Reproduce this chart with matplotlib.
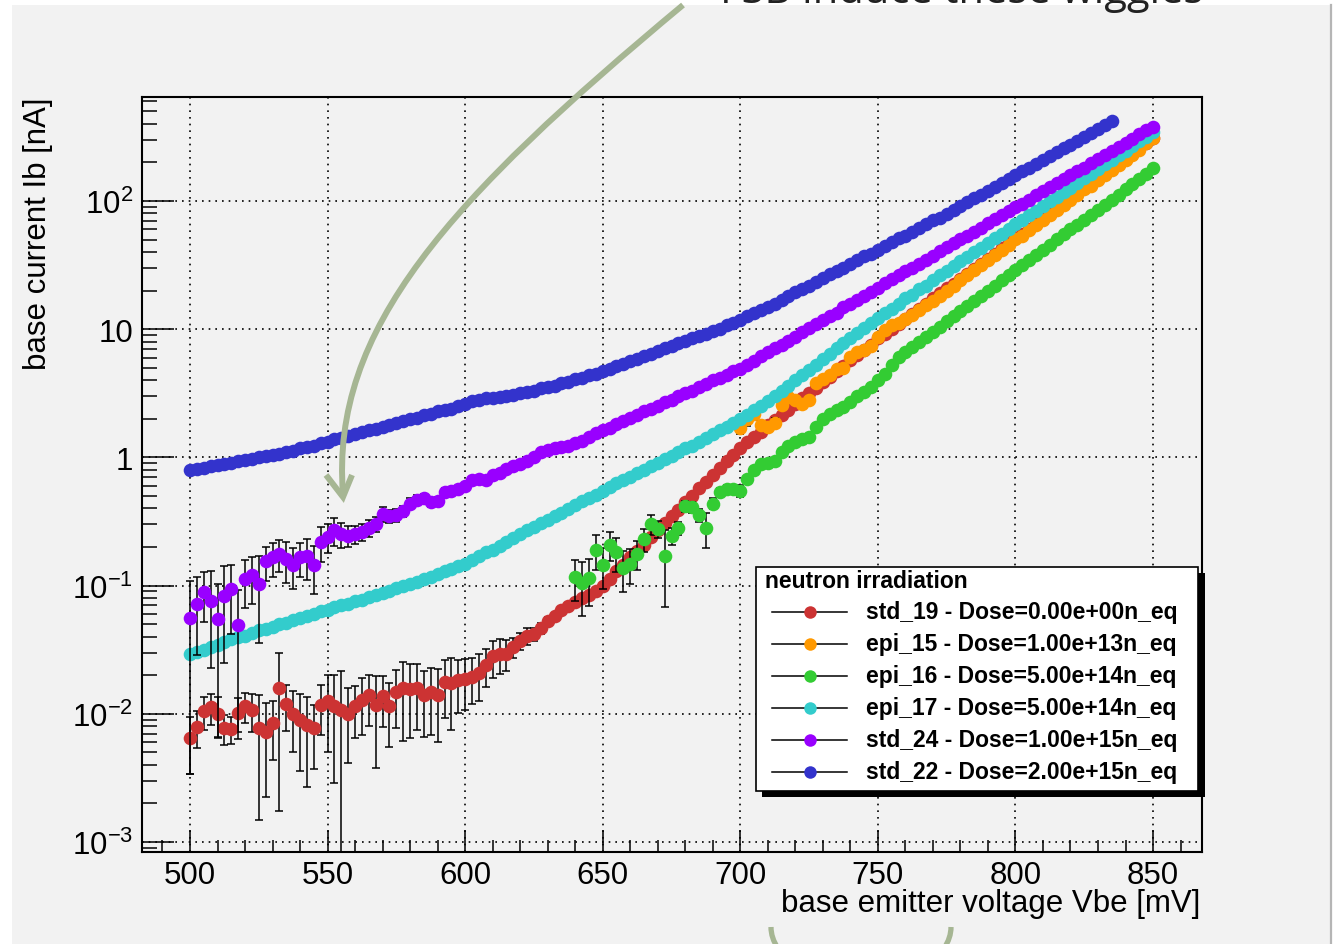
import numpy as np
import matplotlib
matplotlib.use("Agg")
import matplotlib.pyplot as plt
from matplotlib.patches import Rectangle, PathPatch, Arc
from matplotlib.path import Path
from matplotlib.lines import Line2D
from matplotlib.transforms import Affine2D
from matplotlib.ticker import LogLocator, NullFormatter

plt.rcParams['font.family'] = ['Liberation Sans', 'DejaVu Sans']
plt.rcParams['mathtext.fontset'] = 'custom'
plt.rcParams['mathtext.rm'] = 'Liberation Sans'
plt.rcParams['mathtext.it'] = 'Liberation Sans:italic'
plt.rcParams['mathtext.bf'] = 'Liberation Sans:bold'

W, H = 1340, 945
STEP = 2.5  # mV between sweep points

# log10 of base current [nA], one value per sweep point
start_std19 = 500.0
log_ib_std19 = [
    -2.19, -2.10, -1.98, -1.95, -2.00, -2.11, -2.12, -1.99, -1.94, -1.97,
    -2.11, -2.14, -2.07, -1.80, -1.92, -2.00, -2.05, -2.09, -2.11, -1.93,
    -1.90, -1.94, -1.97, -2.00, -1.94, -1.89, -1.85, -1.93, -1.86, -1.94,
    -1.83, -1.80, -1.81, -1.80, -1.85, -1.83, -1.85, -1.75, -1.76, -1.74,
    -1.73, -1.71, -1.68, -1.62, -1.55, -1.53, -1.53, -1.48, -1.43, -1.39,
    -1.38, -1.33, -1.28, -1.24, -1.19, -1.16, -1.13, -1.10, -1.07, -1.04,
    -1.00, -0.95, -0.89, -0.84, -0.78, -0.73, -0.68, -0.62, -0.57, -0.51,
    -0.46, -0.41, -0.35, -0.30, -0.24, -0.19, -0.14, -0.08, -0.03, 0.02,
    0.07, 0.12, 0.16, 0.20, 0.25, 0.29, 0.33, 0.37, 0.42, 0.46,
    0.50, 0.54, 0.59, 0.63, 0.67, 0.71, 0.76, 0.80, 0.84, 0.88,
    0.93, 0.96, 1.00, 1.04, 1.08, 1.12, 1.16, 1.20, 1.24, 1.28,
    1.32, 1.35, 1.39, 1.43, 1.47, 1.51, 1.55, 1.59, 1.63, 1.67,
    1.71, 1.74, 1.78, 1.82, 1.86, 1.90, 1.94, 1.98, 2.02, 2.06,
    2.10, 2.13, 2.17, 2.21, 2.25, 2.29, 2.33, 2.37, 2.41, 2.45,
    2.49]
# relative errors (error / value), from the first point on
err_std19 = [
    0.47, 0.32, 0.29, 0.27, 0.35, 0.26, 0.24, 0.29, 0.26, 0.33,
    0.81, 0.69, 0.49, 0.89, 0.39, 0.50, 0.60, 0.67, 0.52, 0.42,
    0.60, 0.75, 1.00, 0.59, 0.44, 0.47, 0.43, 0.68, 0.43, 0.52,
    0.48, 0.61, 0.58, 0.53, 0.53, 0.54, 0.57, 0.48, 0.57, 0.44,
    0.43, 0.39, 0.40, 0.33, 0.32, 0.31, 0.27, 0.18, 0.15, 0.15,
    0.11, 0.10, 0.08, 0.06, 0.05, 0.05, 0.04, 0.03, 0.03, 0.02]

start_epi15 = 700.0
log_ib_epi15 = [
    0.23, 0.30, 0.34, 0.25, 0.24, 0.27, 0.41, 0.47, 0.45, 0.42,
    0.45, 0.58, 0.61, 0.64, 0.69, 0.70, 0.78, 0.82, 0.84, 0.87,
    0.94, 0.99, 1.03, 1.05, 1.08, 1.11, 1.15, 1.19, 1.22, 1.26,
    1.30, 1.34, 1.38, 1.42, 1.46, 1.50, 1.54, 1.58, 1.62, 1.66,
    1.70, 1.73, 1.77, 1.81, 1.85, 1.89, 1.93, 1.97, 2.01, 2.05,
    2.09, 2.12, 2.16, 2.20, 2.24, 2.28, 2.32, 2.36, 2.40, 2.45,
    2.49]
err_epi15 = [0.10, 0.12, 0.10, 0.08, 0.08, 0.08, 0.06, 0.06, 0.05, 0.05,
             0.05, 0.04, 0.04]

start_epi16 = 640.0
log_ib_epi16 = [
    -0.93, -0.98, -0.94, -0.72, -0.84, -0.68, -0.74, -0.86, -0.83, -0.75,
    -0.64, -0.52, -0.56, -0.77, -0.61, -0.55, -0.38, -0.39, -0.45, -0.55,
    -0.36, -0.27, -0.25, -0.25, -0.26, -0.17, -0.10, -0.05, -0.04, -0.03,
    0.04, 0.09, 0.12, 0.14, 0.16, 0.24, 0.30, 0.34, 0.37, 0.39,
    0.43, 0.48, 0.51, 0.55, 0.60, 0.65, 0.72, 0.78, 0.82, 0.86,
    0.90, 0.94, 0.98, 1.02, 1.06, 1.10, 1.14, 1.18, 1.22, 1.26,
    1.30, 1.34, 1.38, 1.42, 1.46, 1.50, 1.54, 1.58, 1.62, 1.66,
    1.70, 1.74, 1.78, 1.81, 1.85, 1.89, 1.93, 1.97, 2.01, 2.05,
    2.09, 2.13, 2.17, 2.21, 2.26]
err_epi16 = [
    0.35, 0.45, 0.40, 0.30, 0.35, 0.25, 0.30, 0.35, 0.30, 0.25,
    0.20, 0.18, 0.15, 0.60, 0.15, 0.12, 0.10, 0.10, 0.12, 0.30,
    0.10, 0.08, 0.08, 0.08, 0.10, 0.06, 0.05, 0.04, 0.04]

start_epi17 = 500.0
log_ib_epi17 = [
    -1.53, -1.52, -1.50, -1.48, -1.46, -1.44, -1.42, -1.40, -1.39, -1.37,
    -1.35, -1.34, -1.32, -1.30, -1.29, -1.27, -1.25, -1.24, -1.22, -1.20,
    -1.19, -1.17, -1.15, -1.14, -1.12, -1.11, -1.09, -1.07, -1.06, -1.04,
    -1.02, -1.00, -0.99, -0.97, -0.95, -0.93, -0.91, -0.89, -0.87, -0.85,
    -0.83, -0.80, -0.77, -0.74, -0.72, -0.69, -0.66, -0.63, -0.60, -0.57,
    -0.54, -0.51, -0.49, -0.46, -0.43, -0.40, -0.37, -0.34, -0.32, -0.29,
    -0.26, -0.23, -0.20, -0.18, -0.15, -0.12, -0.10, -0.07, -0.04, -0.01,
    0.01, 0.04, 0.07, 0.09, 0.12, 0.15, 0.18, 0.21, 0.24, 0.27,
    0.30, 0.33, 0.37, 0.40, 0.44, 0.48, 0.52, 0.56, 0.60, 0.64,
    0.68, 0.72, 0.77, 0.81, 0.85, 0.89, 0.93, 0.97, 1.01, 1.05,
    1.09, 1.13, 1.16, 1.20, 1.24, 1.27, 1.31, 1.34, 1.38, 1.42,
    1.45, 1.49, 1.53, 1.56, 1.60, 1.63, 1.67, 1.71, 1.74, 1.78,
    1.82, 1.85, 1.89, 1.92, 1.96, 2.00, 2.03, 2.07, 2.10, 2.14,
    2.18, 2.21, 2.25, 2.29, 2.32, 2.36, 2.39, 2.43, 2.47, 2.50,
    2.54]
err_epi17 = []

start_std24 = 500.0
log_ib_std24 = [
    -1.25, -1.14, -1.05, -1.12, -1.26, -1.08, -1.03, -1.31, -0.95, -0.92,
    -0.99, -0.81, -0.78, -0.75, -0.79, -0.84, -0.78, -0.77, -0.84, -0.66,
    -0.62, -0.57, -0.60, -0.61, -0.60, -0.58, -0.55, -0.52, -0.44, -0.46,
    -0.45, -0.42, -0.36, -0.33, -0.32, -0.35, -0.34, -0.27, -0.26, -0.25,
    -0.22, -0.18, -0.17, -0.18, -0.14, -0.12, -0.09, -0.07, -0.05, -0.03,
    0.00, 0.04, 0.06, 0.07, 0.08, 0.09, 0.11, 0.13, 0.16, 0.19,
    0.21, 0.23, 0.26, 0.28, 0.31, 0.33, 0.36, 0.38, 0.40, 0.43,
    0.45, 0.48, 0.50, 0.52, 0.55, 0.57, 0.60, 0.62, 0.64, 0.67,
    0.69, 0.72, 0.75, 0.79, 0.82, 0.85, 0.88, 0.91, 0.94, 0.98,
    1.01, 1.04, 1.07, 1.10, 1.13, 1.17, 1.20, 1.23, 1.26, 1.29,
    1.32, 1.36, 1.39, 1.42, 1.45, 1.48, 1.51, 1.54, 1.57, 1.61,
    1.64, 1.67, 1.70, 1.73, 1.76, 1.79, 1.83, 1.86, 1.89, 1.92,
    1.95, 1.98, 2.01, 2.05, 2.08, 2.11, 2.14, 2.17, 2.20, 2.23,
    2.26, 2.30, 2.33, 2.36, 2.39, 2.42, 2.45, 2.48, 2.52, 2.55,
    2.58]
err_std24 = [
    0.94, 0.60, 0.42, 0.70, 0.88, 0.70, 0.55, 0.87, 0.40, 0.40,
    0.65, 0.30, 0.30, 0.28, 0.35, 0.35, 0.30, 0.35, 0.40, 0.30,
    0.25, 0.25, 0.22, 0.18, 0.16, 0.15, 0.15, 0.14, 0.13, 0.12,
    0.12, 0.10, 0.10, 0.09, 0.08, 0.08, 0.07, 0.07, 0.06, 0.06,
    0.05, 0.05, 0.04, 0.04, 0.04, 0.04, 0.04]

start_std22 = 500.0
log_ib_std22 = [
    -0.10, -0.09, -0.08, -0.07, -0.06, -0.05, -0.04, -0.03, -0.02, -0.01,
    0.00, 0.01, 0.02, 0.03, 0.04, 0.05, 0.07, 0.08, 0.09, 0.11,
    0.12, 0.14, 0.15, 0.17, 0.18, 0.20, 0.21, 0.22, 0.24, 0.25,
    0.27, 0.28, 0.30, 0.31, 0.33, 0.34, 0.36, 0.37, 0.38, 0.40,
    0.42, 0.44, 0.45, 0.46, 0.46, 0.47, 0.48, 0.49, 0.50, 0.51,
    0.52, 0.54, 0.55, 0.56, 0.58, 0.59, 0.61, 0.62, 0.64, 0.65,
    0.67, 0.69, 0.71, 0.73, 0.75, 0.77, 0.79, 0.81, 0.83, 0.85,
    0.87, 0.89, 0.91, 0.93, 0.945, 0.965, 0.985, 1.005, 1.03, 1.05,
    1.075, 1.10, 1.125, 1.15, 1.175, 1.20, 1.23, 1.26, 1.29, 1.31,
    1.34, 1.37, 1.40, 1.43, 1.45, 1.48, 1.51, 1.54, 1.57, 1.59,
    1.62, 1.65, 1.68, 1.71, 1.73, 1.76, 1.79, 1.82, 1.85, 1.87,
    1.90, 1.93, 1.96, 1.99, 2.02, 2.05, 2.08, 2.11, 2.14, 2.17,
    2.20, 2.23, 2.26, 2.29, 2.32, 2.35, 2.38, 2.41, 2.44, 2.47,
    2.50, 2.53, 2.56, 2.59, 2.62]
err_std22 = []

labels = ["std_19 - Dose=0.00e+00n_eq", "epi_15 - Dose=1.00e+13n_eq",
          "epi_16 - Dose=5.00e+14n_eq", "epi_17 - Dose=5.00e+14n_eq",
          "std_24 - Dose=1.00e+15n_eq", "std_22 - Dose=2.00e+15n_eq"]
colors = ['#cc3333', '#ff9900', '#33cc33', '#33cccc', '#9900ff', '#3333cc']
starts = [start_std19, start_epi15, start_epi16, start_epi17, start_std24, start_std22]
logs = [log_ib_std19, log_ib_epi15, log_ib_epi16, log_ib_epi17, log_ib_std24, log_ib_std22]
errs = [err_std19, err_epi15, err_epi16, err_epi17, err_std24, err_std22]

xticks = [500, 550, 600, 650, 700, 750, 800, 850]
yticks = [1e-3, 1e-2, 1e-1, 1, 10, 100]
ytick_labels = [r'$\mathregular{10^{-3}}$', r'$\mathregular{10^{-2}}$',
                r'$\mathregular{10^{-1}}$', '1', '10', r'$\mathregular{10^{2}}$']

fig = plt.figure(figsize=(W / 100, H / 100), dpi=100, facecolor='white')
pix = Affine2D().scale(1 / W, -1 / H).translate(0, 1) + fig.transFigure


def px_rect(x0, y0, x1, y1, **kw):
    return Rectangle((x0 / W, 1 - y1 / H), (x1 - x0) / W, (y1 - y0) / H,
                     transform=fig.transFigure, **kw)


# slide background panel
fig.patches.append(px_rect(12, 6, 1330, 950, facecolor='#f2f2f2', edgecolor='none', zorder=-5))
fig.lines.append(Line2D([1331, 1331], [6, 945], transform=pix, color='#b5b5b5', lw=1.6, zorder=-4))

ax = fig.add_axes([142 / W, 1 - 853 / H, 1060 / W, 755 / H])
ax.set_facecolor('none')
ax.set_yscale('log')

MS = 9.8
for i in range(6):
    y = 10 ** np.array(logs[i])
    x = starts[i] + STEP * np.arange(len(y))
    fr = np.zeros(len(y))
    fr[:len(errs[i])] = errs[i]
    m = fr > 0
    z = 2 + i
    if m.any():
        ax.errorbar(x[m], y[m], yerr=fr[m] * y[m], fmt='none', ecolor='black',
                    elinewidth=1.1, capsize=3.0, capthick=1.1, zorder=z)
    ax.plot(x, y, 'o', ms=MS, mfc=colors[i], mec=colors[i], mew=0, ls='none', zorder=z + 0.5)

ax.set_xlim(482.55, 867.8)
ax.set_ylim(10 ** -3.078, 10 ** 2.811)

ax.set_xticks(xticks)
ax.set_xticks(np.arange(490, 861, 10), minor=True)
ax.set_yticks(yticks, labels=ytick_labels)
ax.yaxis.set_minor_locator(LogLocator(base=10, subs=np.arange(2, 10), numticks=30))
ax.yaxis.set_minor_formatter(NullFormatter())

ax.tick_params(which='both', direction='in', top=False, right=False, width=1.1, labelsize=22.5)
ax.tick_params(axis='x', which='major', length=16, pad=6)
ax.tick_params(axis='x', which='minor', length=8.6)
ax.tick_params(axis='y', which='major', length=23, pad=6.5)
ax.tick_params(axis='y', which='minor', length=11)
for s in ax.spines.values():
    s.set_linewidth(1.5)

ax.grid(True, which='major', color='black', linestyle=(0, (1, 3)), linewidth=1.2)
ax.set_axisbelow(True)

fig.text(1200 / W, 1 - 904 / H, 'base emitter voltage Vbe [mV]', ha='right', va='center', fontsize=22.5)
fig.text(38 / W, 1 - 97 / H, 'base current Ib [nA]', rotation=90, ha='center', va='top', fontsize=22.5)

# legend box in ROOT style
fig.patches.append(px_rect(762, 574, 1205, 798, facecolor='black', edgecolor='none', zorder=5))
fig.patches.append(px_rect(756, 568, 1198, 792, facecolor='white', edgecolor='black', lw=1.2, zorder=6))
fig.text(765 / W, 1 - 582 / H, 'neutron irradiation', fontsize=16.5, fontweight='bold',
         ha='left', va='center', zorder=7)
for i in range(6):
    yy = 613 + 32 * i
    fig.lines.append(Line2D([772, 847], [yy, yy], transform=pix, color='black', lw=1.1, zorder=7))
    fig.lines.append(Line2D([810], [yy], transform=pix, marker='o', ms=9.0, mfc=colors[i],
                            mec=colors[i], mew=0, ls='none', zorder=8))
    fig.text(866 / W, 1 - yy / H, labels[i], fontsize=16.5, fontweight='bold',
             ha='left', va='center', zorder=7)

# slide annotations
sage = '#a6b693'
arrow = Path([(683, 6), (450, 200), (330, 330), (343, 495)],
             [Path.MOVETO, Path.CURVE4, Path.CURVE4, Path.CURVE4])
fig.patches.append(PathPatch(arrow, transform=pix, facecolor='none', edgecolor=sage,
                             lw=4.3, capstyle='butt', zorder=10))
fig.lines.append(Line2D([326, 343, 352], [476, 498, 476], transform=pix, color=sage,
                        lw=4.3, solid_joinstyle='miter', solid_capstyle='butt', zorder=10))
fig.patches.append(Arc((861, 928), 180, 110, theta1=0, theta2=180, transform=pix,
                       edgecolor=sage, lw=3.8, zorder=10))
fig.text(720 / W, 1 - 3 / H, 'FSB induce these wiggles', family=['Open Sans', 'DejaVu Sans'],
         fontsize=30, color='#222222', ha='left', va='baseline', zorder=10)

fig.savefig('out.png', dpi=100, facecolor='white')
